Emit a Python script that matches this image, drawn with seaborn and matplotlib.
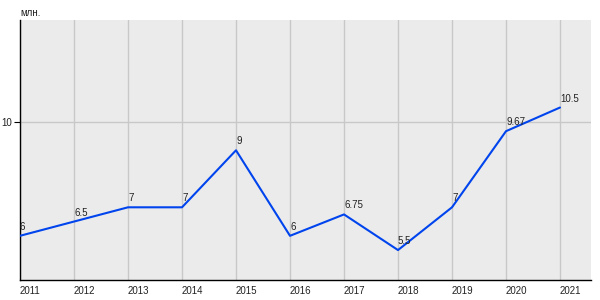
import matplotlib
matplotlib.use("Agg")
import matplotlib.pyplot as plt
import seaborn as sns
import pandas as pd

years = [2011, 2012, 2013, 2014, 2015, 2016, 2017, 2018, 2019, 2020, 2021]
values = [6, 6.5, 7, 7, 9, 6, 6.75, 5.5, 7, 9.67, 10.5]
labels = ["6", "6.5", "7", "7", "9", "6", "6.75", "5.5", "7", "9.67", "10.5"]
unit_label = "млн."

sns.set_theme(style="white")
plt.rcParams["font.family"] = ["Liberation Sans", "DejaVu Sans"]

df = pd.DataFrame({"year": years, "value": values})

fig = plt.figure(figsize=(6, 3), dpi=100)
ax = fig.add_axes([20 / 600, 20 / 300, 571 / 600, 260 / 300])
ax.set_facecolor("#ebebeb")

sns.lineplot(data=df, x="year", y="value", ax=ax, color="#0044ee", linewidth=1.5, zorder=3)

fs = 7
ax.set_xlim(2011, 2021.574)
ax.set_ylim(4.45, 13.57)
ax.set_xticks(years)
ax.set_xticklabels([str(y) for y in years], fontsize=fs, color="#222222", ha="left")
ax.set_yticks([10])
ax.set_yticklabels(["10"], fontsize=fs, color="#222222")
ax.tick_params(axis="x", length=0, pad=4)
ax.tick_params(axis="y", length=4, width=0.8, color="black", pad=2, left=True)
ax.grid(True, color="#c8c8c8", linewidth=1)
ax.set_axisbelow(True)
ax.set_xlabel("")
ax.set_ylabel("")

for s in ["top", "right"]:
    ax.spines[s].set_visible(False)
for s in ["left", "bottom"]:
    ax.spines[s].set_color("black")
    ax.spines[s].set_linewidth(1)

for x, y, t in zip(years, values, labels):
    ax.annotate(t, (x, y), xytext=(0, 4), textcoords="offset pixels",
                fontsize=fs, color="#222222", ha="left", va="bottom", zorder=4)

fig.text(20 / 600, 1 - 13 / 300, unit_label, fontsize=fs, color="#222222", ha="left", va="center")

fig.savefig("out.png", dpi=100)
